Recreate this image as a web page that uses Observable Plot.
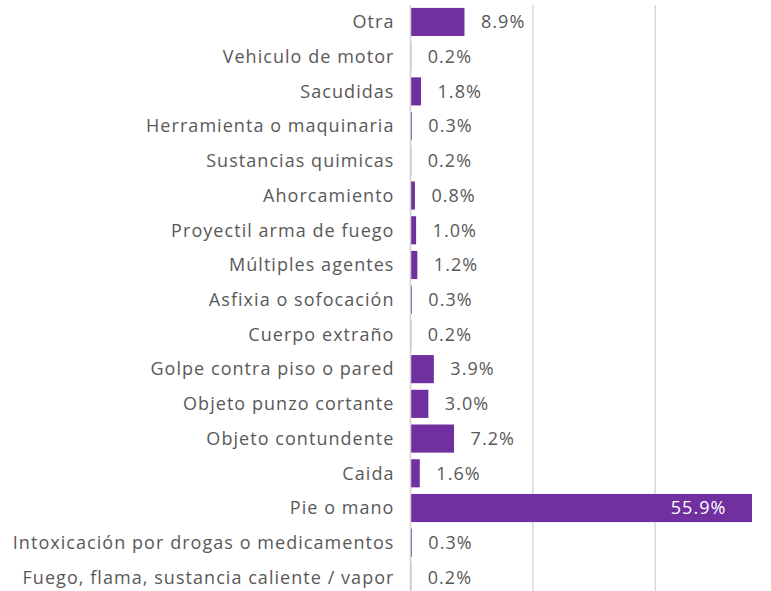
<!DOCTYPE html>
<html><head><meta charset="utf-8">
<script src="https://cdn.jsdelivr.net/npm/d3@7"></script>
<script src="https://cdn.jsdelivr.net/npm/@observablehq/plot@0.6"></script>
<style>body{margin:0;background:#fff;} svg{display:block;}</style>
</head><body><div id="chart"></div>
<script>
const categories = ["Otra","Vehiculo de motor","Sacudidas","Herramienta o maquinaria","Sustancias quimicas","Ahorcamiento","Proyectil arma de fuego","Múltiples agentes","Asfixia o sofocación","Cuerpo extraño","Golpe contra piso o pared","Objeto punzo cortante","Objeto contundente","Caida","Pie o mano","Intoxicación por drogas o medicamentos","Fuego, flama, sustancia caliente / vapor"];
const values = [8.9,0.2,1.8,0.3,0.2,0.8,1.0,1.2,0.3,0.2,3.9,3.0,7.2,1.6,55.9,0.3,0.2];
const gridTicks = [20,40];
const data = categories.map((c,i)=>({cat:c, v:values[i]}));
const font = "'Open Sans', sans-serif";
const purple = "#7030a0";
const plot = Plot.plot({
  width: 771, height: 591,
  marginLeft: 410, marginRight: 19, marginTop: 5, marginBottom: 0,
  style: {fontFamily: font, background: "#fff", letterSpacing: "1.05px"},
  x: {domain: [0, 55.9], axis: null},
  y: {domain: categories, range: [4.6, 594.8], paddingInner: 0.19, paddingOuter: 0.095, round: false, axis: null},
  marks: [
    Plot.ruleX(gridTicks, {stroke: "#d9d9d9", strokeWidth: 1.5, strokeOpacity: 1}),
    Plot.barX(data, {y: "cat", x: "v", fill: purple}),
    Plot.ruleX([0], {stroke: "#d0d0d0", strokeWidth: 1.5}),
    Plot.text(data, {y: "cat", x: 0, text: "cat", textAnchor: "end", dx: -16, fill: "#595959", fontSize: 18}),
    Plot.text(data.filter(d=>d.v<50), {y: "cat", x: "v", text: d=>d.v.toFixed(1)+"%", textAnchor: "start", dx: 16, fill: "#595959", fontSize: 18}),
    Plot.text(data.filter(d=>d.v>=50), {y: "cat", x: "v", text: d=>d.v.toFixed(1)+"%", textAnchor: "end", dx: -26, fill: "#ffffff", fontSize: 18})
  ]
});
document.getElementById("chart").appendChild(plot);
</script></body></html>
